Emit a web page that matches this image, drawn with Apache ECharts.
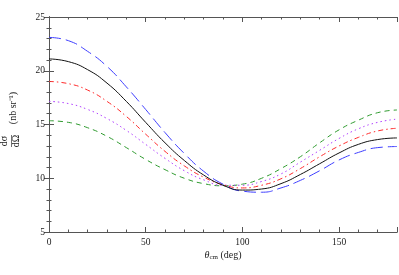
<!DOCTYPE html>
<html><head><meta charset="utf-8">
<script src="https://cdn.jsdelivr.net/npm/echarts@6/dist/echarts.min.js"></script>
<style>html,body{margin:0;padding:0;background:#fff}#c{width:399px;height:275px}</style>
</head><body><div id="c"></div>
<script>
var theta = [0,10,20,30,40,50,60,70,80,90,100,110,120,130,140,150,160,170,180];
var blue   = [23.1,22.8,21.8,20.4,18.5,16.4,14.25,12.3,10.65,9.45,8.8,8.7,9.1,9.8,10.7,11.7,12.4,12.85,12.95];
var black  = [21.1,20.85,20.1,18.85,17.15,15.2,13.3,11.65,10.3,9.35,8.9,9.0,9.5,10.35,11.35,12.35,13.15,13.6,13.75];
var red    = [19.0,18.8,18.2,17.15,15.75,14.1,12.5,11.15,10.1,9.4,9.1,9.35,9.95,10.9,12.0,13.0,13.8,14.4,14.65];
var purple = [17.15,16.95,16.4,15.55,14.45,13.15,11.85,10.7,9.85,9.35,9.35,9.7,10.4,11.5,12.6,13.7,14.6,15.2,15.5];
var green  = [15.35,15.2,14.7,13.9,12.85,11.75,10.8,10.0,9.5,9.3,9.45,10.0,10.9,12.0,13.3,14.5,15.4,16.1,16.35];
var xMajor = [0,50,100,150];
var yMajor = [5,10,15,20,25];

function pairs(v){ return theta.map(function(t,i){return [t,v[i]];}); }
var F = 'Liberation Serif';
var frame = '#555';
function xAx(pos, interval, len, labels){
  return {type:'value', position:pos, min:0, max:180, interval:interval,
    axisLine:{show:true, lineStyle:{color:frame, width:1}},
    axisTick:{show:true, inside:true, length:len, lineStyle:{color:frame}},
    axisLabel:{show:labels, fontFamily:F, fontSize:9.5, color:'#222', margin:5,
      formatter:function(v){return xMajor.indexOf(v)>=0? String(v):'';}},
    splitLine:{show:false}};
}
function yAx(pos, interval, len, labels){
  return {type:'value', position:pos, min:5, max:25, interval:interval,
    axisLine:{show:true, lineStyle:{color:frame, width:1}},
    axisTick:{show:true, inside:true, length:len, lineStyle:{color:frame}},
    axisLabel:{show:labels, fontFamily:F, fontSize:9.5, color:'#222', margin:4,
      formatter:function(v){return yMajor.indexOf(v)>=0? String(v):'';}},
    splitLine:{show:false}};
}
function ser(name, data, color, type, w){
  return {name:name, type:'line', data:pairs(data), smooth:0.5, showSymbol:false, symbol:'none',
    xAxisIndex:0, yAxisIndex:0,
    lineStyle:{color:color, width:w||1, type:type}};
}
var yA = [yAx('left',1,2.5,false), yAx('left',5,5,true), yAx('right',1,2.5,false), yAx('right',5,5,false)];
yA[0].name = '(nb sr⁻¹)';
yA[0].nameLocation = 'middle';
yA[0].nameRotate = 90;
yA[0].nameGap = 31;
yA[0].nameTextStyle = {fontFamily:F, fontSize:10, color:'#222', padding:[0,0,0,33]};
yA[1].name = '{t|dσ}\n{b|—}\n{t|dΩ}';
yA[1].nameLocation = 'middle';
yA[1].nameRotate = 90;
yA[1].nameGap = 28;
yA[1].nameTextStyle = {fontFamily:F, fontSize:10, color:'#222', padding:[0,33,0,0],
  rich:{t:{fontFamily:F, fontSize:10, color:'#222', lineHeight:9},
        b:{fontFamily:F, fontSize:12, color:'#222', lineHeight:3}}};

var chart = echarts.init(document.getElementById('c'), null, {renderer:'canvas'});
chart.setOption({
  animation:false,
  grid:{left:49, right:2, top:17, bottom:43, containLabel:false, outerBoundsMode:'none'},
  xAxis:[xAx('bottom',10,2.5,false), xAx('bottom',50,5,true), xAx('top',10,2.5,false), xAx('top',50,5,false)],
  yAxis:yA,
  series:[
    ser('green', green, '#2e9a2e', [5,4]),
    ser('purple', purple, '#b040ff', [1.5,3]),
    ser('red', red, '#ff2a2a', [5,3,1.5,3]),
    ser('blue', blue, '#3c3cff', [12,5]),
    ser('black', black, '#111', 'solid')
  ],
  graphic:[
    {type:'text', x:223, y:255, style:{
      text:'{i|θ}{s|cm}{n| (deg)}', align:'center', verticalAlign:'middle',
      rich:{
        i:{fontFamily:F, fontStyle:'italic', fontSize:10, fill:'#222'},
        s:{fontFamily:F, fontSize:7, fill:'#222', padding:[4,0,0,0], verticalAlign:'bottom'},
        n:{fontFamily:F, fontSize:10, fill:'#222'}
      }}}
  ]
});
</script></body></html>
